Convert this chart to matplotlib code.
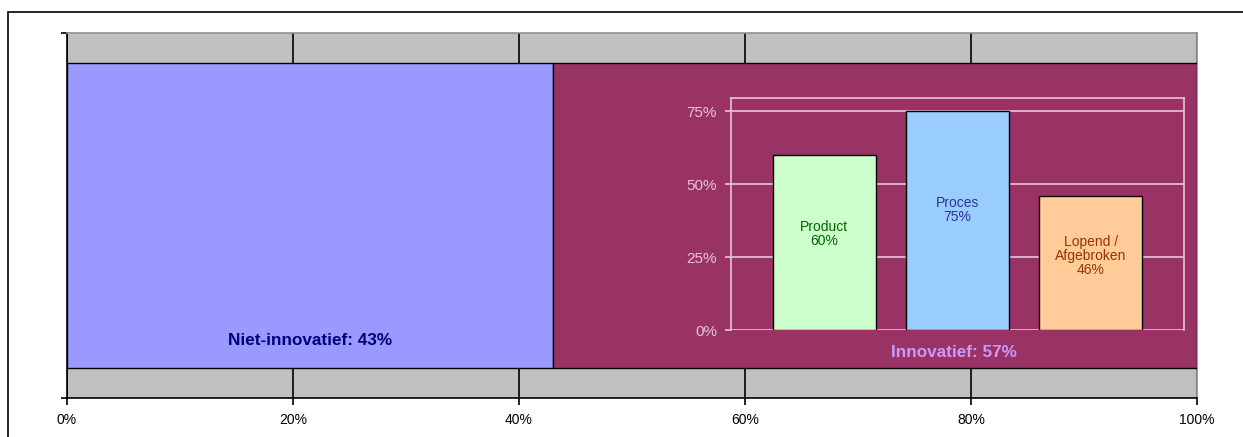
import matplotlib.pyplot as plt
from matplotlib.patches import Rectangle
from matplotlib.ticker import PercentFormatter

plt.rcParams['font.family'] = ['Liberation Sans', 'DejaVu Sans']

# -------------------------------
# Data
# -------------------------------
groups = ['Niet-innovatief', 'Innovatief']
shares = [0.43, 0.57]
group_colors = ['#9999FF', '#993366']
group_text_colors = ['#000080', '#CC99FF']

kinds = ['Product', 'Proces', 'Lopend /\nAfgebroken']
kind_values = [0.60, 0.75, 0.46]
kind_colors = ['#CCFFCC', '#99CCFF', '#FFCC99']
kind_text_colors = ['#006600', '#333399', '#993300']

x_ticks = [0, 0.2, 0.4, 0.6, 0.8, 1.0]
inset_ticks = [0, 0.25, 0.5, 0.75]

W, H = 1243, 437
fig = plt.figure(figsize=(W / 100, H / 100), dpi=100)

# outer frame (runs off the right/bottom edge)
fig.patches.append(Rectangle((8 / W, -0.1), 1.2, 1 - 12 / H + 0.1,
                             transform=fig.transFigure, fill=False,
                             edgecolor='black', linewidth=1.2))

# -------------------------------
# Main stacked bar
# -------------------------------
ax = fig.add_axes([67 / W, 1 - 398 / H, (1197 - 67) / W, 365 / H])
ax.set_facecolor('#C0C0C0')

left = 0
for name, share, col in zip(groups, shares, group_colors):
    ax.barh(0, share, left=left, height=1.0, color=col,
            edgecolor='black', linewidth=1, zorder=3)
    left += share

ax.set_xlim(0, 1)
ax.set_ylim(-0.598, 0.598)
ax.set_xticks(x_ticks)
ax.xaxis.set_major_formatter(PercentFormatter(1.0, decimals=0))
ax.set_yticks([-0.598, 0.598])
ax.set_yticklabels([])
ax.tick_params(axis='x', direction='out', length=5, width=1.2, labelsize=10,
               colors='black', pad=6)
ax.tick_params(axis='y', direction='out', length=4, width=1.2)
ax.grid(axis='x', color='black', linewidth=1.2, zorder=1)
for side in ['left', 'bottom']:
    ax.spines[side].set_color('black')
    ax.spines[side].set_linewidth(1.2)
for side in ['top', 'right']:
    ax.spines[side].set_color('#909090')
    ax.spines[side].set_linewidth(1.2)

ax.text(shares[0] / 2, -0.408, f'{groups[0]}: {shares[0]:.0%}',
        ha='center', va='center', fontsize=12.3, fontweight='bold',
        color=group_text_colors[0], zorder=5)
ax.text(0.785, -0.448, f'{groups[1]}: {shares[1]:.0%}',
        ha='center', va='center', fontsize=12.3, fontweight='bold',
        color=group_text_colors[1], zorder=5)

# -------------------------------
# Inset: type of innovation
# -------------------------------
pink = '#E8C4DA'
ins = fig.add_axes([731 / W, 1 - 330 / H, (1184 - 731) / W, 232 / H])
ins.patch.set_alpha(0)
xs = range(len(kinds))
ins.bar(xs, kind_values, width=0.77, color=kind_colors,
        edgecolor='black', linewidth=1, zorder=3)
for x, name, val, tc in zip(xs, kinds, kind_values, kind_text_colors):
    ins.text(x, val * 0.55, f'{name}\n{val:.0%}', ha='center', va='center',
             fontsize=10, color=tc, zorder=4, linespacing=1.0)

ins.set_xlim(-0.7, 2.7)
ins.set_ylim(0, 0.795)
ins.set_xticks([])
ins.set_yticks(inset_ticks)
ins.yaxis.set_major_formatter(PercentFormatter(1.0, decimals=0))
ins.tick_params(axis='y', direction='out', length=4, width=1.2,
                colors=pink, labelcolor=pink, labelsize=11, pad=6)
ins.grid(axis='y', color=pink, linewidth=1.2, zorder=1)
for side in ['top', 'left', 'right']:
    ins.spines[side].set_color(pink)
    ins.spines[side].set_linewidth(1.2)
ins.spines['bottom'].set_visible(False)

plt.savefig('out.png', dpi=100)
